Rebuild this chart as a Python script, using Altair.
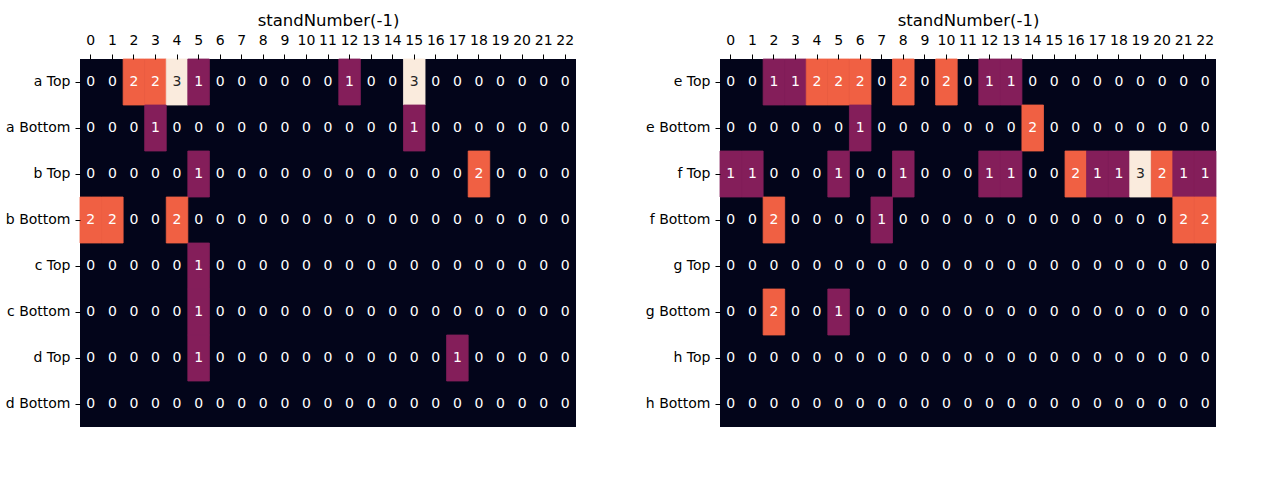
import altair as alt
import pandas as pd

cols = list(range(23))

left_rows = ["a Top", "a Bottom", "b Top", "b Bottom", "c Top", "c Bottom", "d Top", "d Bottom"]
left_vals = [
    [0, 0, 2, 2, 3, 1, 0, 0, 0, 0, 0, 0, 1, 0, 0, 3, 0, 0, 0, 0, 0, 0, 0],
    [0, 0, 0, 1, 0, 0, 0, 0, 0, 0, 0, 0, 0, 0, 0, 1, 0, 0, 0, 0, 0, 0, 0],
    [0, 0, 0, 0, 0, 1, 0, 0, 0, 0, 0, 0, 0, 0, 0, 0, 0, 0, 2, 0, 0, 0, 0],
    [2, 2, 0, 0, 2, 0, 0, 0, 0, 0, 0, 0, 0, 0, 0, 0, 0, 0, 0, 0, 0, 0, 0],
    [0, 0, 0, 0, 0, 1, 0, 0, 0, 0, 0, 0, 0, 0, 0, 0, 0, 0, 0, 0, 0, 0, 0],
    [0, 0, 0, 0, 0, 1, 0, 0, 0, 0, 0, 0, 0, 0, 0, 0, 0, 0, 0, 0, 0, 0, 0],
    [0, 0, 0, 0, 0, 1, 0, 0, 0, 0, 0, 0, 0, 0, 0, 0, 0, 1, 0, 0, 0, 0, 0],
    [0, 0, 0, 0, 0, 0, 0, 0, 0, 0, 0, 0, 0, 0, 0, 0, 0, 0, 0, 0, 0, 0, 0],
]

right_rows = ["e Top", "e Bottom", "f Top", "f Bottom", "g Top", "g Bottom", "h Top", "h Bottom"]
right_vals = [
    [0, 0, 1, 1, 2, 2, 2, 0, 2, 0, 2, 0, 1, 1, 0, 0, 0, 0, 0, 0, 0, 0, 0],
    [0, 0, 0, 0, 0, 0, 1, 0, 0, 0, 0, 0, 0, 0, 2, 0, 0, 0, 0, 0, 0, 0, 0],
    [1, 1, 0, 0, 0, 1, 0, 0, 1, 0, 0, 0, 1, 1, 0, 0, 2, 1, 1, 3, 2, 1, 1],
    [0, 0, 2, 0, 0, 0, 0, 1, 0, 0, 0, 0, 0, 0, 0, 0, 0, 0, 0, 0, 0, 2, 2],
    [0, 0, 0, 0, 0, 0, 0, 0, 0, 0, 0, 0, 0, 0, 0, 0, 0, 0, 0, 0, 0, 0, 0],
    [0, 0, 2, 0, 0, 1, 0, 0, 0, 0, 0, 0, 0, 0, 0, 0, 0, 0, 0, 0, 0, 0, 0],
    [0, 0, 0, 0, 0, 0, 0, 0, 0, 0, 0, 0, 0, 0, 0, 0, 0, 0, 0, 0, 0, 0, 0],
    [0, 0, 0, 0, 0, 0, 0, 0, 0, 0, 0, 0, 0, 0, 0, 0, 0, 0, 0, 0, 0, 0, 0],
]

levels = [0, 1, 2, 3]
level_colors = ["#03051A", "#841E5A", "#F06043", "#FAEBDD"]
text_colors = ["#FFFFFF", "#FFFFFF", "#FFFFFF", "#262626"]


def to_df(rows, vals):
    recs = []
    for r, row in zip(rows, vals):
        for c, v in zip(cols, row):
            recs.append({"row": r, "col": c, "v": v})
    return pd.DataFrame(recs)


FONT = "DejaVu Sans"


def panel(rows, vals):
    df = to_df(rows, vals)
    base = alt.Chart(df).encode(
        x=alt.X("col:O", sort=cols,
                axis=alt.Axis(orient="top", title="standNumber(-1)", labelAngle=0, grid=False,
                              domain=False, tickSize=5, tickColor="#000", labelPadding=7,
                              labelFontSize=14, labelColor="#000", labelFont=FONT,
                              titleFontSize=16.5, titleFontWeight="normal", titleFont=FONT,
                              titleColor="#000", titlePadding=5)),
        y=alt.Y("row:O", sort=rows,
                axis=alt.Axis(title=None, domain=False, tickSize=5, tickColor="#000", grid=False,
                              labelPadding=5, labelFontSize=14, labelColor="#000",
                              labelFont=FONT)),
    )
    rect = base.mark_rect(strokeWidth=0.8).encode(
        color=alt.Color("v:O", scale=alt.Scale(domain=levels, range=level_colors), legend=None),
        stroke=alt.Stroke("v:O", scale=alt.Scale(domain=levels, range=level_colors), legend=None),
    ).transform_filter(alt.datum.v > 0)
    text = base.mark_text(fontSize=14, font=FONT, baseline="middle").encode(
        text="v:Q",
        color=alt.Color("v:O", scale=alt.Scale(domain=levels, range=text_colors), legend=None),
    )
    return alt.layer(rect, text).resolve_scale(color="independent").properties(width=496, height=368)


chart = alt.hconcat(panel(left_rows, left_vals), panel(right_rows, right_vals), spacing=69).properties(
    padding={"left": 5, "top": 12, "right": 5, "bottom": 5}
).configure_view(stroke=None, fill="#03051A").configure_scale(bandPaddingInner=0, bandPaddingOuter=0)

chart.save("out.html", embed_options={"renderer": "svg", "actions": False})
